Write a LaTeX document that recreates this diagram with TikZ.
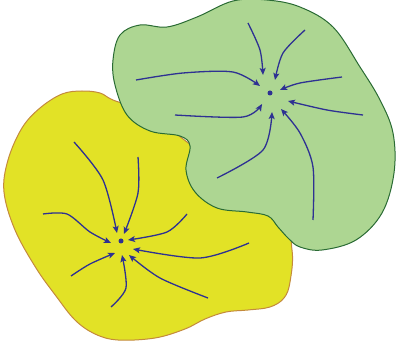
\documentclass[tikz,border=0pt]{standalone}
\usetikzlibrary{arrows.meta}
\definecolor{yfill}{HTML}{E2E226}
\definecolor{ydraw}{HTML}{C48A3C}
\definecolor{gfill}{HTML}{ADD692}
\definecolor{gdraw}{HTML}{2A6B34}
\definecolor{flowc}{HTML}{2E3192}
\tikzset{
  flow/.style={draw=flowc, line width=1.3pt, -{Stealth[length=7pt,width=6pt,inset=1.5pt]}},
  dotc/.style={circle, fill=flowc, inner sep=0pt, minimum size=5pt},
}
\begin{document}
\begin{tikzpicture}[x=1pt,y=-1pt]
\useasboundingbox (0,0) rectangle (397,350);
% yellow blob
\path[fill=yfill, draw=ydraw, line width=1pt] plot[smooth cycle, tension=0.6] coordinates {
 (62,94) (82,91) (100,93) (113,100) (150,115) (210,160) (280,215) (292,250)
 (290,282) (284,298) (270,307) (248,310) (226,312) (205,319) (185,329) (155,338)
 (118,340) (95,334) (75,320) (56,296) (36,268) (15,230) (4,192) (8,160) (22,128) (40,108)};
% green blob
\path[fill=gfill, draw=gdraw, line width=1pt] plot[smooth cycle, tension=0.6] coordinates {
 (233,1) (267,0) (300,7) (333,27) (360,67) (380,100) (393,133) (394,173) (382,213)
 (356,240) (322,250) (300,247) (289,239) (278,227) (268,216) (247,212) (217,208)
 (195,192) (186,170) (190,146) (180,136) (150,131) (127,115) (115,85) (113,60) (120,35)
 (140,25) (167,27) (197,17)};
% centres
\node[dotc] (g) at (270,93) {};
\node[dotc] (y) at (121,241) {};
% green flows
\draw[flow] plot[smooth] coordinates {(248,23) (260,50) (263,75)};
\draw[flow] plot[smooth] coordinates {(305,30) (283,53) (275,80)};
\draw[flow] plot[smooth] coordinates {(136,80) (183,73) (233,72) (260,86)};
\draw[flow] plot[smooth] coordinates {(342,77) (300,83) (280,90)};
\draw[flow] plot[smooth] coordinates {(363,115) (327,110) (288,101)};
\draw[flow] plot[smooth] coordinates {(175,115) (243,117) (262,104)};
\draw[flow] plot[smooth] coordinates {(217,178) (263,150) (272,112)};
\draw[flow] plot[smooth] coordinates {(313,220) (313,167) (300,133) (281,109)};
% yellow flows
\draw[flow] plot[smooth] coordinates {(74,142) (103,180) (117,233)};
\draw[flow] plot[smooth] coordinates {(138,157) (138,193) (124,234)};
\draw[flow] plot[smooth] coordinates {(43,214) (67,214) (90,232) (111,243)};
\draw[flow] plot[smooth] coordinates {(187,214) (167,232) (128,240)};
\draw[flow] plot[smooth] coordinates {(249,243) (200,258) (133,249)};
\draw[flow] plot[smooth] coordinates {(71,276) (90,264) (115,253)};
\draw[flow] plot[smooth] coordinates {(111,307) (126,288) (122,255)};
\draw[flow] plot[smooth] coordinates {(208,298) (160,278) (129,255)};
\end{tikzpicture}
\end{document}
